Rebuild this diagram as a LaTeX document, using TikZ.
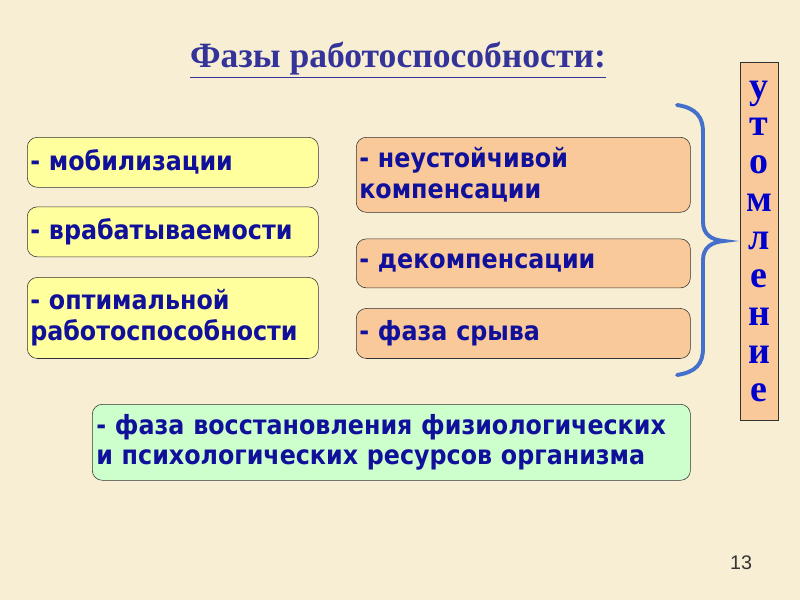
\documentclass[tikz,border=0pt]{standalone}
\usepackage{fontspec}
\setmainfont{Liberation Serif}
\newfontfamily\phasefont{DejaVu Sans Condensed}
\newfontfamily\numfont{Liberation Sans}
\usetikzlibrary{positioning}
\definecolor{parchment}{HTML}{F7EED4}
\definecolor{phaseyellow}{HTML}{FFFF9E}
\definecolor{phasepeach}{HTML}{FAC99A}
\definecolor{phasegreen}{HTML}{CCFFCC}
\definecolor{inkblue}{HTML}{10109A}
\definecolor{headblue}{HTML}{333399}
\definecolor{braceblue}{HTML}{4470CC}

\begin{document}
\begin{tikzpicture}[
    x=0.025cm, y=-0.025cm,
    phase/.style={draw=black!80, rounded corners=0.25cm, inner xsep=0.075cm, inner ysep=0pt, align=left, text=inkblue, font=\phasefont\bfseries\fontsize{18.8}{22}\selectfont},
    early/.style={phase, fill=phaseyellow, minimum width=7.275cm, text width=7.125cm, minimum height=1.25cm},
    late/.style={phase, fill=phasepeach, minimum width=8.35cm, text width=8.2cm, minimum height=1.25cm},
    rest/.style={phase, fill=phasegreen, minimum width=14.95cm, text width=14.75cm, minimum height=1.9cm, inner xsep=0.1cm},
    vbox/.style={draw=black!80, fill=phasepeach, minimum width=0.95cm, minimum height=8.95cm, inner sep=0pt, align=center, text=blue!80!black, font=\bfseries\fontsize{27}{27}\selectfont},
    brace/.style={draw=braceblue, line width=2.8pt, line cap=round},
    title/.style={text=headblue, font=\bfseries\fontsize{25.3}{25}\selectfont},
]
\fill[parchment] (0,0) rectangle (800,600);
\useasboundingbox (0,0) rectangle (800,600);

% Title
\node[title] (head) at (398,60) {\underline{Фазы работоспособности:}};

% Left column
\node[early, anchor=north west] (mob) at (27,137) {- мобилизации};
\node[early, below=0.475cm of mob] (vrab) {- врабатываемости};
\node[early, below=0.5cm of vrab, minimum height=2.025cm] (optim) {- оптимальной\\работоспособности};

% Right column
\node[late, anchor=north west, minimum height=1.875cm] (unstable) at (356,137) {- неустойчивой\\компенсации};
\node[late, below=0.65cm of unstable, minimum height=1.225cm] (decomp) {- декомпенсации};
\node[late, below=0.5cm of decomp] (break) {- фаза срыва};

% Recovery
\node[rest, anchor=north west] (recov) at (92,404) {- фаза восстановления физиологических\\и психологических ресурсов организма};

% Brace and fatigue
\draw[brace] (677,105) .. controls (697,108) and (703,118) .. (703,132) -- (703,222)
    .. controls (703,234) and (711,240) .. (724,241)
    .. controls (711,242) and (703,248) .. (703,260) -- (703,348)
    .. controls (703,364) and (696,372) .. (677,375);
\node[vbox, anchor=north west] (fatigue) at (740,62) {у\\т\\о\\м\\л\\е\\н\\и\\е};

% Page number
\node[font=\numfont\fontsize{14}{14}\selectfont, text=black!80] (page) at (741,563) {13};

\end{tikzpicture}
\end{document}
